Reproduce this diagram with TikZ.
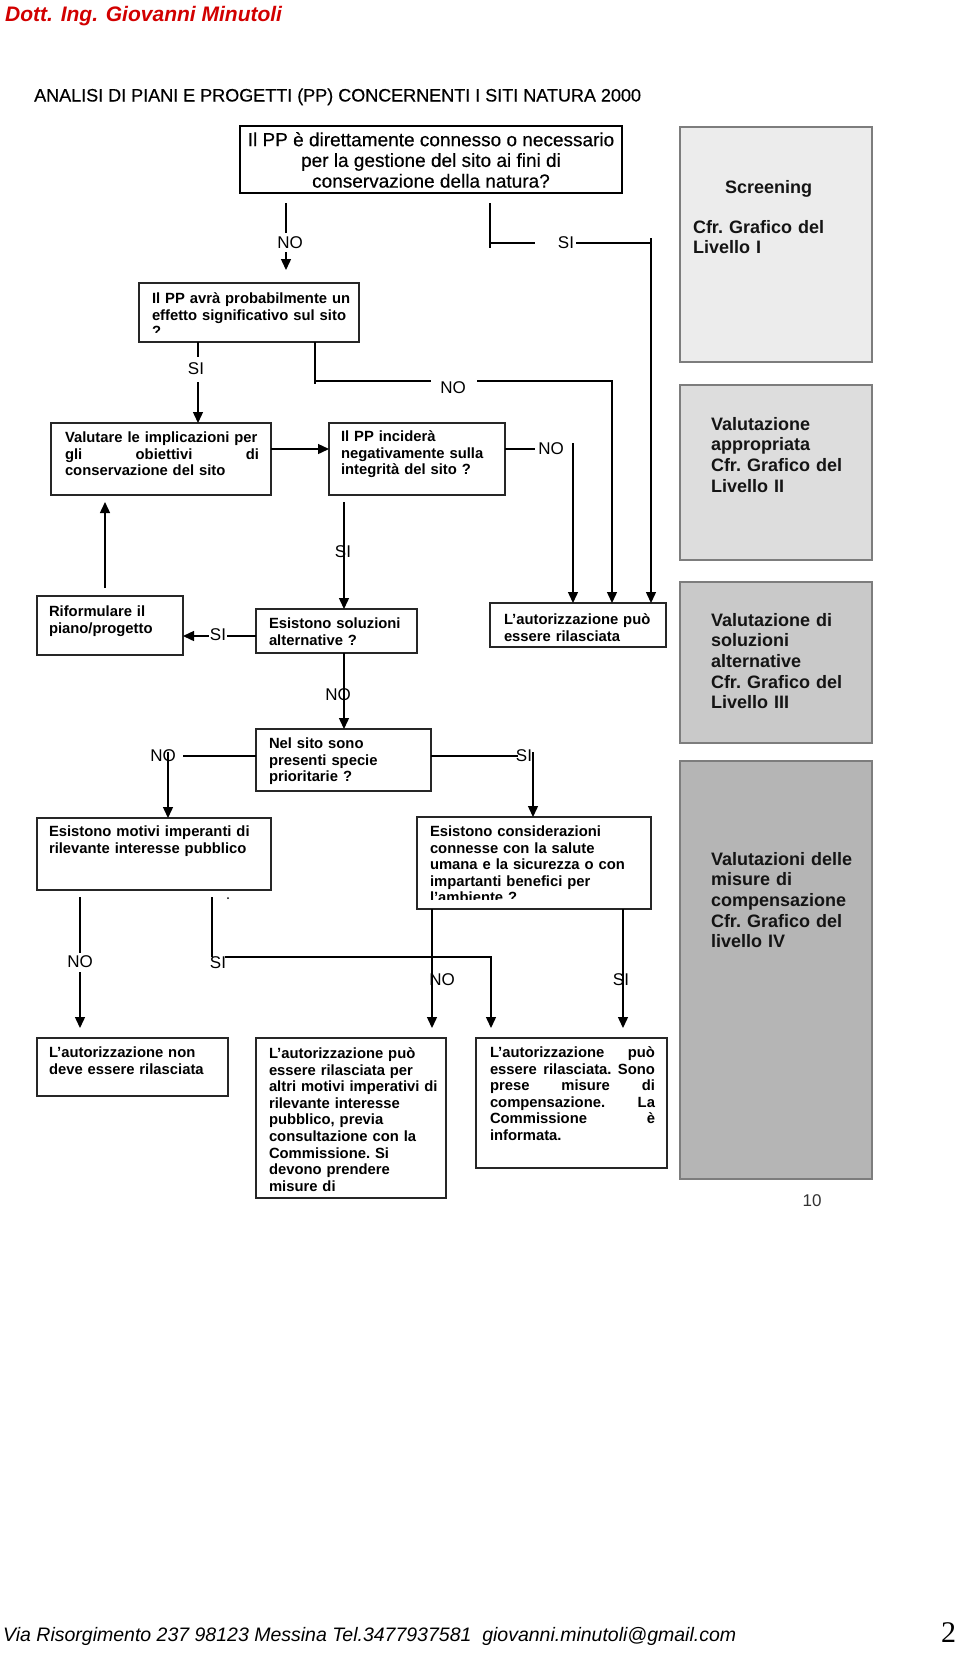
\documentclass[tikz,border=0pt]{standalone}
\usepackage{fontspec}
\setmainfont{Liberation Sans}
\newfontfamily\serifnum{Liberation Serif}
\newfontfamily\medsans[FakeBold=0.4]{Liberation Sans}
\usetikzlibrary{arrows.meta}
\definecolor{hdrred}{RGB}{210,0,0}
\definecolor{pA}{RGB}{236,236,236}
\definecolor{pB}{RGB}{221,221,221}
\definecolor{pC}{RGB}{201,201,201}
\definecolor{pD}{RGB}{181,181,181}
\definecolor{pborder}{RGB}{125,125,125}
\newcommand\firstA{\rule{0pt}{13pt}}
\newcommand\firstB{\rule{0pt}{14pt}}
\newcommand\firstC{\rule{0pt}{15pt}}
\begin{document}
\begin{tikzpicture}[x=1pt,y=-1pt,
  box/.style={draw=black!85, line width=1.4pt, inner sep=0pt, outer sep=0pt, anchor=north west},
  btext/.style={anchor=north west, inner sep=0pt, outer sep=0pt, text width=300pt, align=left,
    font=\bfseries\fontsize{14.8}{16.6}\selectfont\setlength\parindent{0pt}\frenchspacing},
  panel/.style={draw=pborder, line width=1.5pt, inner sep=0pt, outer sep=0pt, anchor=north west},
  ptext/.style={anchor=north west, inner sep=0pt, outer sep=0pt, text width=200pt, align=left,
    text=black!92, font=\bfseries\fontsize{18}{20.7}\selectfont\setlength\parindent{0pt}\frenchspacing},
  lbl/.style={font=\fontsize{17}{20}\selectfont, inner sep=1pt},
  lblw/.style={lbl, fill=white, inner xsep=1pt, inner ysep=3pt},
  conn/.style={line width=1.4pt},
  arr/.style={conn, -{Triangle[length=11pt,width=10pt]}},
]
\fill[white] (0,0) rectangle (960,1658);
\useasboundingbox (0,0) rectangle (960,1658);

% header / title / footer
\node[anchor=base west, inner sep=0pt, font=\bfseries\itshape\fontsize{21}{25}\selectfont, text=hdrred] (hdr) at (5,21) {Dott. Ing. Giovanni Minutoli};
\node[anchor=base west, inner sep=0pt, font=\medsans\fontsize{18}{22}\selectfont] (title) at (34,101.5) {ANALISI DI PIANI E PROGETTI (PP) CONCERNENTI I SITI NATURA 2000};
\node[anchor=base west, inner sep=0pt, font=\itshape\fontsize{19.5}{23}\selectfont] (foot) at (3,1641) {Via Risorgimento 237 98123 Messina Tel.3477937581\ \ giovanni.minutoli@gmail.com};
\node[anchor=base west, inner sep=0pt, font=\serifnum\fontsize{30}{34}\selectfont] (pnum) at (941,1642) {2};
\node[anchor=base, inner sep=0pt, font=\fontsize{17}{20}\selectfont, text=black!80] (pg) at (812,1206) {10};

% right panels
\node[panel, fill=pA, minimum width=192pt, minimum height=235pt] (p1) at (680,127) {};
\node[panel, fill=pB, minimum width=192pt, minimum height=175pt] (p2) at (680,385) {};
\node[panel, fill=pC, minimum width=192pt, minimum height=161pt] (p3) at (680,582) {};
\node[panel, fill=pD, minimum width=192pt, minimum height=418pt] (p4) at (680,761) {};
\node[anchor=base west, inner sep=0pt, text=black!92, font=\bfseries\fontsize{18}{20.7}\selectfont] (p1a) at (725,193) {Screening};
\node[ptext] (p1t) at (693,219) {\firstB Cfr. Grafico del\\Livello I};
\node[ptext] (p2t) at (711,416) {\firstB Valutazione\\appropriata\\Cfr. Grafico del\\Livello II};
\node[ptext] (p3t) at (711,612) {\firstB Valutazione di\\soluzioni\\alternative\\Cfr. Grafico del\\Livello III};
\node[ptext] (p4t) at (711,851) {\firstB Valutazioni delle\\misure di\\compensazione\\Cfr. Grafico del\\livello IV};

% flow boxes
\node[box, draw=black, line width=2pt, minimum width=382pt, minimum height=67pt] (b1) at (240,126) {};
\node[anchor=north, inner sep=0pt, align=center, font=\medsans\fontsize{19}{20.7}\selectfont] (b1t) at (431,131) {\firstC Il PP è direttamente connesso o necessario\\per la gestione del sito ai fini di\\conservazione della natura?};

\node[box, minimum width=220pt, minimum height=59pt] (b2) at (139,283) {};
\begin{scope}
\clip (139,283) rectangle (359,333);
\node[btext] (t2) at (152,290.5) {\firstA Il PP avrà probabilmente un\\effetto significativo sul sito\\?};
\end{scope}

\node[box, minimum width=220pt, minimum height=72pt] (b3) at (51,423) {};
\node[btext] (t3) at (65,429.5) {\firstA Valutare le implicazioni per\\\makebox[194pt][s]{gli\hfill obiettivi\hfill di}\\conservazione del sito};

\node[box, minimum width=176pt, minimum height=72pt] (b4) at (329,423) {};
\node[btext] (t4) at (341,428.5) {\firstA Il PP inciderà\\negativamente sulla\\integrità del sito ?};

\node[box, minimum width=161pt, minimum height=44pt] (b5) at (256,609) {};
\node[btext] (t5) at (269,615.5) {\firstA Esistono soluzioni\\alternative ?};

\node[box, minimum width=146pt, minimum height=59pt] (b6) at (37,596) {};
\node[btext] (t6) at (49,603.5) {\firstA Riformulare il\\piano/progetto};

\node[box, minimum width=176pt, minimum height=44pt] (b13) at (490,603) {};
\node[btext] (t13) at (504,611.5) {\firstA L’autorizzazione può\\essere rilasciata};

\node[box, minimum width=175pt, minimum height=62pt] (b7) at (256,729) {};
\node[btext] (t7) at (269,735.5) {\firstA Nel sito sono\\presenti specie\\prioritarie ?};

\node[box, minimum width=234pt, minimum height=72pt] (b8) at (37,818) {};
\node[btext] (t8) at (49,823.5) {\firstA Esistono motivi imperanti di\\rilevante interesse pubblico};

\node[box, minimum width=234pt, minimum height=92pt] (b9) at (417,817) {};
\begin{scope}
\clip (417,817) rectangle (651,899);
\node[btext] (t9) at (430,823.5) {\firstA Esistono considerazioni\\connesse con la salute\\umana e la sicurezza o con\\impartanti benefici per\\l’ambiente ?};
\end{scope}

\node[box, minimum width=191pt, minimum height=58pt] (b10) at (37,1038) {};
\node[btext] (t10) at (49,1044.5) {\firstA L’autorizzazione non\\deve essere rilasciata};

\node[box, minimum width=190pt, minimum height=160pt] (b11) at (256,1038) {};
\node[btext] (t11) at (269,1045.5) {\firstA L’autorizzazione può\\essere rilasciata per\\altri motivi imperativi di\\rilevante interesse\\pubblico, previa\\consultazione con la\\Commissione. Si\\devono prendere\\misure di};

\node[box, minimum width=191pt, minimum height=130pt] (b12) at (476,1038) {};
\node[btext] (t12) at (490,1044.5) {\firstA\makebox[165pt][s]{L’autorizzazione\hfill può}\\\makebox[165pt][s]{essere\hfill rilasciata.\hfill Sono}\\\makebox[165pt][s]{prese\hfill misure\hfill di}\\\makebox[165pt][s]{compensazione.\hfill La}\\\makebox[165pt][s]{Commissione\hfill è}\\informata.};

% connector coordinates
\coordinate (c1a) at (286,203); \coordinate (c1b) at (286,233);
\coordinate (c1c) at (286,252); \coordinate (c1d) at (286,270);
\coordinate (s1a) at (490,203); \coordinate (s1b) at (490,248);
\coordinate (s1c) at (490,243); \coordinate (s1d) at (535,243);
\coordinate (s1e) at (576,243); \coordinate (s1f) at (651,243);
\coordinate (s1g) at (651,238);
\coordinate (c3a) at (198,342); \coordinate (c3b) at (198,357);
\coordinate (c3c) at (198,382);
\coordinate (c4a) at (315,342); \coordinate (c4b) at (315,384);
\coordinate (c4c) at (315,381); \coordinate (c4d) at (431,381);
\coordinate (c4e) at (477,381); \coordinate (c4f) at (612,381);
\coordinate (c5) at (271,449);
\coordinate (c6a) at (505,449); \coordinate (c6b) at (535,449);
\coordinate (c6c) at (573,443);
\coordinate (c7) at (344,502);
\coordinate (c8) at (256,636);
\coordinate (c9a) at (105,588); \coordinate (c9b) at (105,502);
\coordinate (c10) at (344,653);
\coordinate (c11a) at (256,756); \coordinate (c11b) at (183,756);
\coordinate (c11c) at (168,752);
\coordinate (c12a) at (431,756); \coordinate (c12b) at (518,756);
\coordinate (c12c) at (533,752);
\coordinate (c13a) at (80,897); \coordinate (c13b) at (80,953);
\coordinate (c13c) at (80,972); \coordinate (c13d) at (80,1028);
\coordinate (c14a) at (212,897); \coordinate (c14b) at (212,957);
\coordinate (c14c) at (225,957); \coordinate (c14d) at (491,957);
\coordinate (c14e) at (491,1028);
\coordinate (c15a) at (432,909); \coordinate (c15b) at (432,1028);
\coordinate (c16a) at (623,909); \coordinate (c16b) at (623,1028);

% connectors
\draw[conn] (c1a) -- (c1b);
\draw[arr] (c1c) -- (c1d);
\draw[conn] (s1a) -- (s1b);
\draw[conn] (s1c) -- (s1d);
\draw[conn] (s1e) -- (s1f);
\draw[arr] (s1g) -- (s1g |- b13.north);
\draw[conn] (c3a) -- (c3b);
\draw[arr] (c3c) -- (c3c |- b3.north);
\draw[conn] (c4a) -- (c4b);
\draw[conn] (c4c) -- (c4d);
\draw[arr] (c4e) -- (c4f) -- (c4f |- b13.north);
\draw[arr] (c5) -- (c5 -| b4.west);
\draw[conn] (c6a) -- (c6b);
\draw[arr] (c6c) -- (c6c |- b13.north);
\draw[arr] (c7) -- (c7 |- b5.north);
\draw[arr] (c8) -- (c8 -| b6.east);
\draw[arr] (c9a) -- (c9b);
\draw[arr] (c10) -- (c10 |- b7.north);
\draw[conn] (c11a) -- (c11b);
\draw[arr] (c11c) -- (c11c |- b8.north);
\draw[conn] (c12a) -- (c12b);
\draw[arr] (c12c) -- (c12c |- b9.north);
\draw[conn] (c13a) -- (c13b);
\draw[arr] (c13c) -- (c13d);
\draw[conn] (c14a) -- (c14b);
\draw[arr] (c14c) -- (c14d) -- (c14e);
\draw[arr] (c15a) -- (c15b);
\draw[arr] (c16a) -- (c16b);
\fill (228,898) circle (1pt);

% labels
\node[lbl] (l1) at (290,243) {NO};
\node[lbl] (l2) at (566,243) {SI};
\node[lbl] (l3) at (196,369) {SI};
\node[lbl] (l4) at (453,388) {NO};
\node[lbl] (l6) at (551,449) {NO};
\node[lbl] (l7) at (343,552) {SI};
\node[lblw] (l8) at (218,635) {SI};
\node[lbl] (l10) at (338,695) {NO};
\node[lbl] (l11) at (163,756) {NO};
\node[lbl] (l12) at (524,756) {SI};
\node[lbl] (l13) at (80,962) {NO};
\node[lbl] (l14) at (218,963) {SI};
\node[lbl] (l15) at (442,980) {NO};
\node[lbl] (l16) at (621,980) {SI};
\end{tikzpicture}
\end{document}
